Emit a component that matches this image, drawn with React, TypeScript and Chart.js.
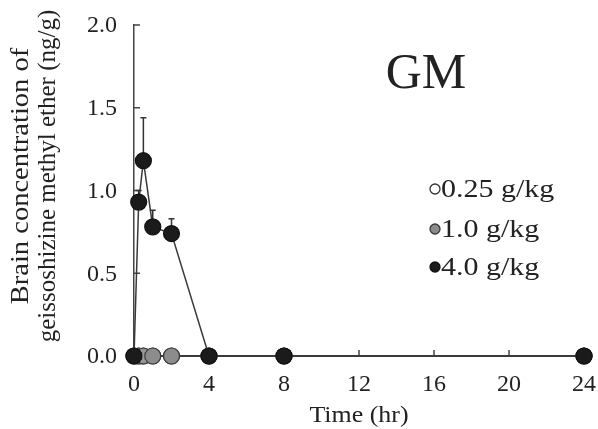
import React, { useEffect, useRef } from "react";
import { Chart, registerables } from "chart.js";

Chart.register(...registerables);

const times = [0, 0.25, 0.5, 1, 2, 4, 8, 24];
const dose025 = [0, 0, 0, 0, 0, 0, 0, 0];
const dose10 = [0, 0, 0, 0, 0, 0, 0, 0];
const dose40 = [0, 0.93, 1.18, 0.78, 0.74, 0, 0, 0];
const dose10ErrUp = [0, 0, 0.03, 0, 0, 0, 0, 0];
const dose40ErrUp = [0, 0.07, 0.26, 0.1, 0.09, 0, 0, 0];
const xTicks = [0, 4, 8, 12, 16, 20, 24];
const yTicks = [0, 0.5, 1.0, 1.5, 2.0];
const legendLabels = ["0.25 g/kg", "1.0 g/kg", "4.0 g/kg"];
const panelLabel = "GM";
const xTitle = "Time (hr)";
const yTitleLines = ["Brain concentration of", "geissoshizine methyl ether (ng/g)"];

const FONT = "'Liberation Serif', 'Times New Roman', serif";
const TEXT = "#222";
const AXIS = "#444";
const fills = ["#ffffff", "#8c8c8c", "#1b1b1b"];
const strokes = ["#333333", "#3a3a3a", "#111111"];

function stretchText(ctx: any, text: string, x: number, y: number, sx: number) {
  ctx.save();
  ctx.translate(x, y);
  ctx.scale(sx, 1);
  ctx.fillText(text, 0, 0);
  ctx.restore();
}

const decorPlugin = {
  id: "decor",
  beforeDatasetsDraw(chart: any) {
    const ctx = chart.ctx;
    const xs = chart.scales.x;
    const ys = chart.scales.y;
    ctx.save();
    ctx.strokeStyle = AXIS;
    ctx.lineWidth = 1.5;
    yTicks.forEach((v) => {
      if (v === 0) return;
      const y = ys.getPixelForValue(v);
      ctx.beginPath();
      ctx.moveTo(xs.left, y);
      ctx.lineTo(xs.left + 6, y);
      ctx.stroke();
    });
    xTicks.forEach((v) => {
      if (v === 0) return;
      const x = xs.getPixelForValue(v);
      ctx.beginPath();
      ctx.moveTo(x, ys.bottom);
      ctx.lineTo(x, ys.bottom - 6);
      ctx.stroke();
    });
    ctx.strokeStyle = "#333";
    dose40.forEach((v, i) => {
      const e = dose40ErrUp[i];
      if (!e) return;
      const x = xs.getPixelForValue(times[i]);
      const y0 = ys.getPixelForValue(v);
      const y1 = ys.getPixelForValue(v + e);
      ctx.beginPath();
      ctx.moveTo(x, y0);
      ctx.lineTo(x, y1);
      ctx.moveTo(x - 3, y1);
      ctx.lineTo(x + 3, y1);
      ctx.stroke();
    });
    ctx.restore();
  },
  afterDatasetsDraw(chart: any) {
    const ctx = chart.ctx;
    const xs = chart.scales.x;
    const ys = chart.scales.y;
    ctx.save();
    ctx.strokeStyle = "#999";
    ctx.lineWidth = 1.5;
    dose10.forEach((v, i) => {
      const e = dose10ErrUp[i];
      if (!e) return;
      const x = xs.getPixelForValue(times[i]);
      const yT = ys.getPixelForValue(v + e);
      const yB = ys.getPixelForValue(v - e);
      ctx.beginPath();
      ctx.moveTo(x, yT);
      ctx.lineTo(x, yB);
      ctx.moveTo(x - 2.5, yT);
      ctx.lineTo(x + 2.5, yT);
      ctx.moveTo(x - 2.5, yB);
      ctx.lineTo(x + 2.5, yB);
      ctx.stroke();
    });
    ctx.restore();
  },
  afterDraw(chart: any) {
    const ctx = chart.ctx;
    const xs = chart.scales.x;
    const ys = chart.scales.y;
    ctx.save();
    ctx.fillStyle = TEXT;
    ctx.font = `24px ${FONT}`;
    ctx.textAlign = "right";
    ctx.textBaseline = "middle";
    yTicks.forEach((v) => {
      ctx.fillText(v.toFixed(1), xs.left - 17, ys.getPixelForValue(v) + 1);
    });
    ctx.textAlign = "center";
    ctx.textBaseline = "alphabetic";
    xTicks.forEach((v) => {
      ctx.fillText(String(v), xs.getPixelForValue(v), 391);
    });
    ctx.font = `50px ${FONT}`;
    ctx.fillText(panelLabel, 426, 88);
    ctx.font = `24px ${FONT}`;
    stretchText(ctx, xTitle, (xs.left + xs.right) / 2, 422, 1.08);
    ctx.save();
    ctx.translate(0, 176);
    ctx.rotate(-Math.PI / 2);
    ctx.textBaseline = "middle";
    ctx.font = `25px ${FONT}`;
    stretchText(ctx, yTitleLines[0], 0, 21, 1.14);
    ctx.fillText(yTitleLines[1], 0, 48);
    ctx.restore();
    const rows = [189, 229, 267];
    legendLabels.forEach((lab, i) => {
      const y = rows[i];
      ctx.beginPath();
      ctx.arc(435, y, 5, 0, Math.PI * 2);
      ctx.fillStyle = fills[i];
      ctx.fill();
      ctx.strokeStyle = strokes[i];
      ctx.lineWidth = 1.3;
      ctx.stroke();
      ctx.fillStyle = TEXT;
      ctx.font = `25px ${FONT}`;
      ctx.textAlign = "left";
      ctx.textBaseline = "middle";
      stretchText(ctx, lab, 441, y + 1, 1.2);
    });
    ctx.restore();
  },
};

export default function App() {
  const ref = useRef<HTMLCanvasElement>(null);
  useEffect(() => {
    document.body.style.margin = "0";
    const mk = (vals: number[]) => vals.map((v, i) => ({ x: times[i], y: v }));
    const ds = (label: string, vals: number[], i: number, order: number) => ({
      label,
      data: mk(vals),
      borderColor: "#3a3a3a",
      borderWidth: 1.5,
      backgroundColor: fills[i],
      pointBackgroundColor: fills[i],
      pointBorderColor: strokes[i],
      pointBorderWidth: 1.2,
      pointRadius: 8,
      pointStyle: "circle",
      showLine: true,
      tension: 0,
      order,
      clip: false as any,
    });
    const chart = new Chart(ref.current!, {
      type: "scatter",
      data: {
        datasets: [
          ds(legendLabels[0], dose025, 0, 3),
          ds(legendLabels[1], dose10, 1, 2),
          ds(legendLabels[2], dose40, 2, 1),
        ],
      },
      options: {
        responsive: false,
        animation: false,
        layout: { padding: { top: 25, right: 14, left: 0, bottom: 0 } },
        plugins: { legend: { display: false }, tooltip: { enabled: false } },
        scales: {
          x: {
            type: "linear",
            min: 0,
            max: 24,
            afterFit: (s: any) => {
              s.height = 73;
            },
            afterBuildTicks: (s: any) => {
              s.ticks = xTicks.map((v) => ({ value: v }));
            },
            ticks: { display: false },
            grid: { display: true, drawOnChartArea: false, drawTicks: false },
            border: { display: true, color: AXIS, width: 1.5 },
          },
          y: {
            min: 0,
            max: 2,
            afterFit: (s: any) => {
              s.width = 134;
            },
            afterBuildTicks: (s: any) => {
              s.ticks = yTicks.map((v) => ({ value: v }));
            },
            ticks: { display: false },
            grid: { display: true, drawOnChartArea: false, drawTicks: false },
            border: { display: true, color: AXIS, width: 1.5 },
          },
        },
      },
      plugins: [decorPlugin],
    });
    return () => chart.destroy();
  }, []);
  return (
    <div style={{ width: 598, height: 429, background: "#fff" }}>
      <canvas ref={ref} width={598} height={429} />
    </div>
  );
}
